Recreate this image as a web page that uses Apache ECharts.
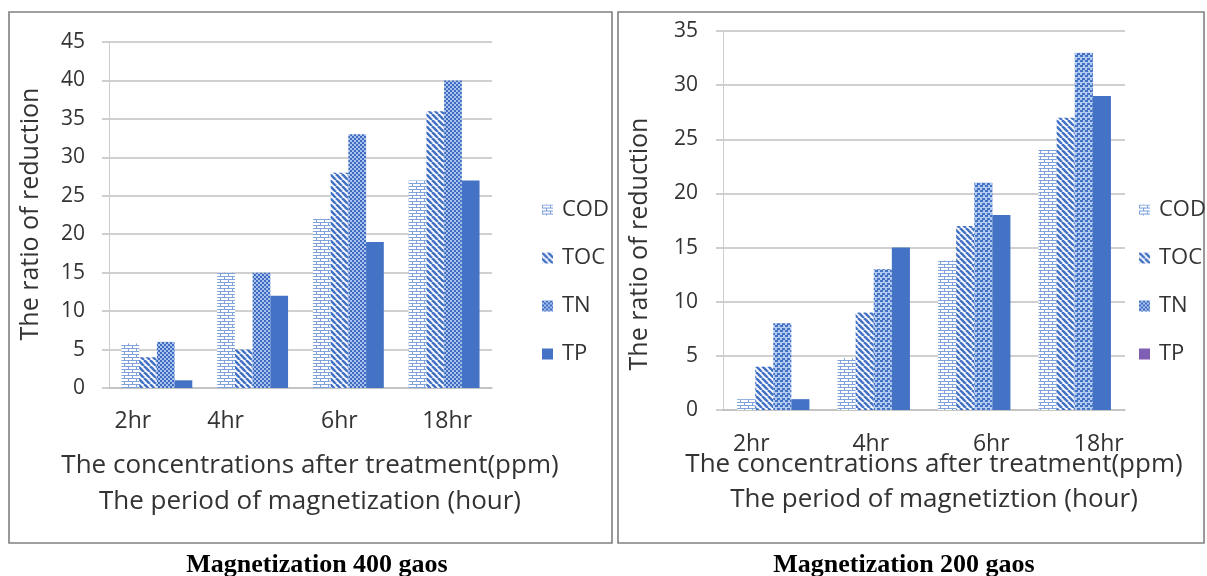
<!DOCTYPE html>
<html><head><meta charset="utf-8">
<script src="https://cdn.jsdelivr.net/npm/echarts@6/dist/echarts.min.js"></script>
<style>html,body{margin:0;padding:0;background:#fff}#c{width:1207px;height:576px}</style>
</head><body><div id="c"></div>
<script>
// ---- data ----
const categories = ['2hr', '4hr', '6hr', '18hr'];
const seriesNames = ['COD', 'TOC', 'TN', 'TP'];
const cod400 = [5.8, 15, 22, 27];
const toc400 = [4, 5, 28, 36];
const tn400  = [6, 15, 33, 40];
const tp400  = [1, 12, 19, 27];
const cod200 = [1, 4.8, 13.8, 24];
const toc200 = [4, 9, 17, 27];
const tn200  = [8, 13, 21, 33];
const tp200  = [1, 15, 18, 29];
const yMax400 = 45, yMax200 = 35, yStep = 5;
const xTitle1 = 'The concentrations after treatment(ppm)';
const xTitle400 = 'The period of magnetization (hour)';
const xTitle200 = 'The period of magnetiztion (hour)';
const yTitle = 'The ratio of reduction';
const caption400 = 'Magnetization 400 gaos';
const caption200 = 'Magnetization 200 gaos';

// ---- patterns ----
function tile(w, h, draw) {
  const c = document.createElement('canvas');
  c.width = w; c.height = h;
  const g = c.getContext('2d');
  draw(g, w, h);
  return { image: c, repeat: 'repeat' };
}
const brick = tile(8, 6, (g, w, h) => {
  g.fillStyle = '#ffffff'; g.fillRect(0, 0, w, h);
  g.fillStyle = '#7ea2dc';
  g.fillRect(0, 0, w, 1); g.fillRect(0, 3, w, 1);
  g.fillRect(0, 0, 1, 3); g.fillRect(4, 3, 1, 3);
});
const diag = tile(6, 6, (g, w, h) => {
  g.fillStyle = '#ffffff'; g.fillRect(0, 0, w, h);
  g.strokeStyle = '#4472c4'; g.lineWidth = 2.6;
  for (const o of [-6, 0, 6]) { g.beginPath(); g.moveTo(o, 0); g.lineTo(o + 6, 6); g.stroke(); }
});
const checker = tile(4, 4, (g, w, h) => {
  g.fillStyle = '#a9c3ee'; g.fillRect(0, 0, w, h);
  g.fillStyle = '#3f6cc0';
  g.fillRect(0, 0, 2, 2); g.fillRect(2, 2, 2, 2);
});
const dots = tile(5, 5, (g, w, h) => {
  g.fillStyle = '#b3cbf0'; g.fillRect(0, 0, w, h);
  g.fillStyle = '#4472c4';
  g.fillRect(0, 0, 3, 2); g.fillRect(2, 3, 3, 2);
});
const solid = '#4472c4';

const textColor = '#333333';
const gridColor = '#c0c0c0';
const sans = '"Open Sans", "Noto Sans", sans-serif';

function catAxis(gi, offsets, margin) {
  const rich = {};
  offsets.forEach((o, i) => {
    rich['p' + i] = { fontSize: 23, fontFamily: sans, color: textColor,
      padding: o < 0 ? [0, -2 * o, 0, 0] : [0, 0, 0, 2 * o] };
  });
  return {
    type: 'category', gridIndex: gi, data: categories,
    axisLine: { show: true, lineStyle: { color: gridColor, width: 1.5 } },
    axisTick: { show: false },
    axisLabel: { margin: margin, interval: 0,
      formatter: (v, i) => '{p' + i + '|' + v + '}', rich: rich }
  };
}
function valAxis(gi, max, margin) {
  return {
    type: 'value', gridIndex: gi, min: 0, max: max, interval: yStep,
    axisLine: { show: true, lineStyle: { color: '#cccccc', width: 1 } },
    axisTick: { show: true, length: 7, lineStyle: { color: gridColor, width: 1.5 } },
    splitLine: { lineStyle: { color: gridColor, width: 1.5 } },
    axisLabel: { margin: margin, fontSize: 21, fontFamily: sans, color: textColor }
  };
}
function bars(gi, names, datas, patterns, gap) {
  return names.map((n, k) => ({
    name: n, type: 'bar', xAxisIndex: gi, yAxisIndex: gi, data: datas[k],
    barGap: '0%', barCategoryGap: gap,
    itemStyle: { color: patterns[k] }, silent: true
  }));
}
function legendCfg(left, data) {
  return {
    orient: 'vertical', left: left, top: 193, itemWidth: 11, itemHeight: 11, itemGap: 24,
    icon: 'rect', selectedMode: false,
    textStyle: { fontSize: 22, lineHeight: 24, fontFamily: sans, color: textColor, padding: [0, 0, 0, 4] },
    data: data
  };
}
function txt(x, y, text, font, rot) {
  return { type: 'text', x: x, y: y, rotation: rot || 0, silent: true,
    style: { text: text, font: font, fill: textColor, align: 'center', verticalAlign: 'middle' } };
}

const chart = echarts.init(document.getElementById('c'), null, { renderer: 'canvas' });
chart.setOption({
  backgroundColor: '#ffffff',
  animation: false,
  grid: [
    { left: 109, right: 715, top: 42, bottom: 188 },
    { left: 723, right: 82, top: 31, bottom: 166 }
  ],
  xAxis: [catAxis(0, [-24, -27, -9, 3], 22), catAxis(1, [-22, -3, 17, 24], 23)],
  yAxis: [valAxis(0, yMax400, 24), valAxis(1, yMax200, 25)],
  legend: [
    legendCfg(537, seriesNames.map(n => ({ name: n }))),
    legendCfg(1134, seriesNames.map(n => n === 'TP' ? { name: n, itemStyle: { color: '#7f5fb3' } } : { name: n }))
  ],
  series: [].concat(
    bars(0, seriesNames, [cod400, toc400, tn400, tp400], [brick, diag, checker, solid], '26%'),
    bars(1, seriesNames, [cod200, toc200, tn200, tp200], [brick, diag, dots, solid], '28%')
  ),
  graphic: [
    { type: 'rect', shape: { x: 9, y: 12, width: 603, height: 531 }, silent: true,
      style: { fill: 'none', stroke: '#808080', lineWidth: 1.6 } },
    { type: 'rect', shape: { x: 618, y: 12, width: 586, height: 531 }, silent: true,
      style: { fill: 'none', stroke: '#808080', lineWidth: 1.6 } },
    txt(31, 214, yTitle, '25px ' + sans, Math.PI / 2),
    txt(640, 244, yTitle, '25px ' + sans, Math.PI / 2),
    txt(310, 466, xTitle1, '26px ' + sans),
    txt(310, 502, xTitle400, '26px ' + sans),
    txt(934, 465, xTitle1, '26px ' + sans),
    txt(934, 500, xTitle200, '26px ' + sans),
    { type: 'text', x: 317, y: 565, silent: true,
      style: { text: caption400, font: 'bold 26px "Liberation Serif", "Times New Roman", serif', fill: '#000', align: 'center', verticalAlign: 'middle' } },
    { type: 'text', x: 904, y: 565, silent: true,
      style: { text: caption200, font: 'bold 26px "Liberation Serif", "Times New Roman", serif', fill: '#000', align: 'center', verticalAlign: 'middle' } }
  ]
});
</script></body></html>
